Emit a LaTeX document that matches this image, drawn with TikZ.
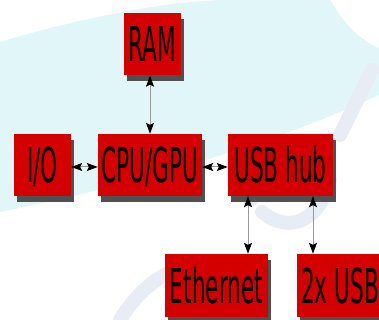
\documentclass[tikz,border=0pt]{standalone}
\usepackage{fontspec}
\setmainfont{DejaVu Sans}
\usetikzlibrary{arrows.meta,shadows}
\definecolor{boxred}{RGB}{212,0,0}
\definecolor{shadowgray}{RGB}{80,80,80}
\definecolor{wmcyan}{RGB}{224,246,249}
\definecolor{wmgray}{RGB}{232,236,244}
\newcommand{\boxlabel}[1]{\fontsize{48}{48}\selectfont\scalebox{0.45}[1]{#1}}
\tikzset{
  headtip/.tip={Stealth[length=11pt,width=8pt,inset=2pt,black]},
  block/.style={fill=boxred, draw=none, inner sep=0pt, text height=35pt, text depth=0pt,
    minimum height=62pt, drop shadow={shadow xshift=3pt, shadow yshift=-6pt, fill=shadowgray, opacity=1}},
  link/.style={draw=black!40, line width=1pt, {headtip}-{headtip}},
  wmline/.style={draw=wmgray, line width=14pt, line cap=round}
}
\begin{document}
\begin{tikzpicture}[x=1pt,y=-1pt]
\useasboundingbox (0,0) rectangle (379,320);
% faint watermark background
\fill[wmcyan] (0,42) .. controls (80,18) and (170,0) .. (230,0) -- (330,0)
  .. controls (345,25) and (360,40) .. (379,48) -- (379,95)
  .. controls (260,150) and (110,190) .. (0,212) -- cycle;
\draw[wmline] (262,212) .. controls (290,235) and (320,220) .. (330,180);
\draw[wmline] (300,160) -- (250,200);
\draw[wmline] (120,320) .. controls (150,270) and (200,250) .. (245,275);
\draw[wmline] (340,135) -- (372,70);
% blocks
\node[block, minimum width=57pt] (ram) at (152.5,44.5) {\boxlabel{RAM}};
\node[block, minimum width=57pt] (io) at (42.5,165) {\boxlabel{I/O}};
\node[block, minimum width=104pt] (cpu) at (150,165) {\boxlabel{CPU/GPU}};
\node[block, minimum width=105pt] (usb) at (280.5,165) {\boxlabel{USB hub}};
\node[block, minimum width=103pt, minimum height=63pt] (eth) at (216.5,285.5) {\boxlabel{Ethernet}};
\node[block, minimum width=86pt, minimum height=63pt] (usbx) at (340,285.5) {\boxlabel{2x USB}};
% connectors
\draw[link] (ram.south -| cpu.north) -- (cpu.north);
\draw[link] ([yshift=-2pt]io.east) -- ([yshift=-2pt]cpu.west);
\draw[link] ([yshift=-2pt]cpu.east) -- ([yshift=-2pt]usb.west);
\draw[link] ([xshift=-32.5pt]usb.south) -- ([xshift=-32.5pt]usb.south |- eth.north);
\draw[link] ([xshift=32.5pt]usb.south) -- ([xshift=32.5pt]usb.south |- usbx.north);
\end{tikzpicture}
\end{document}
